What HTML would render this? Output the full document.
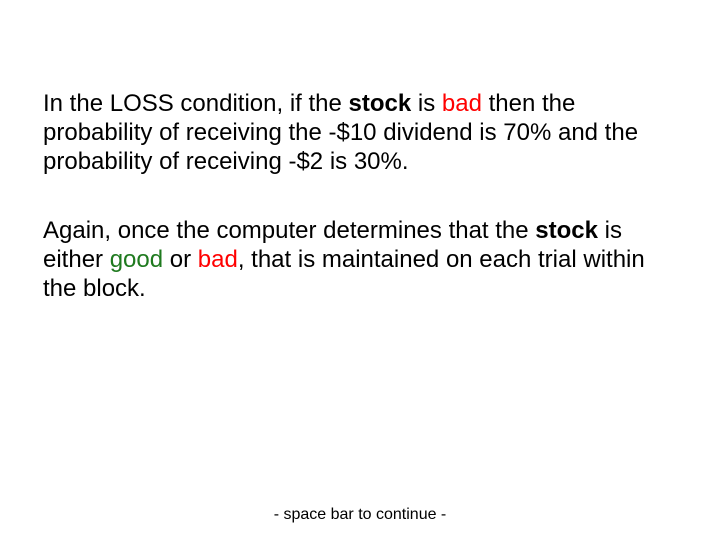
<!DOCTYPE html>
<html><head><meta charset="utf-8"><style>
body{margin:0;width:720px;height:540px;background:#fff;position:relative;overflow:hidden;font-family:"Liberation Sans",Arial,sans-serif;color:#000}
.p{position:absolute;left:43px;width:670px;font-size:24px;line-height:29px}
.r{color:#ff0000}.g{color:#1f7a1f}
#foot{position:absolute;left:0;width:720px;top:505px;text-align:center;font-size:16px;line-height:20px;color:#000}
</style></head><body>
<div class="p" style="top:89px">In the LOSS condition, if the <b>stock</b> is <span class="r">bad</span> then the<br>probability of receiving the -$10 dividend is 70% and the<br>probability of receiving -$2 is 30%.</div>
<div class="p" style="top:216px">Again, once the computer determines that the <b>stock</b> is<br>either <span class="g">good</span> or <span class="r">bad</span>, that is maintained on each trial within<br>the block.</div>
<div id="foot">- space bar to continue -</div>
</body></html>
